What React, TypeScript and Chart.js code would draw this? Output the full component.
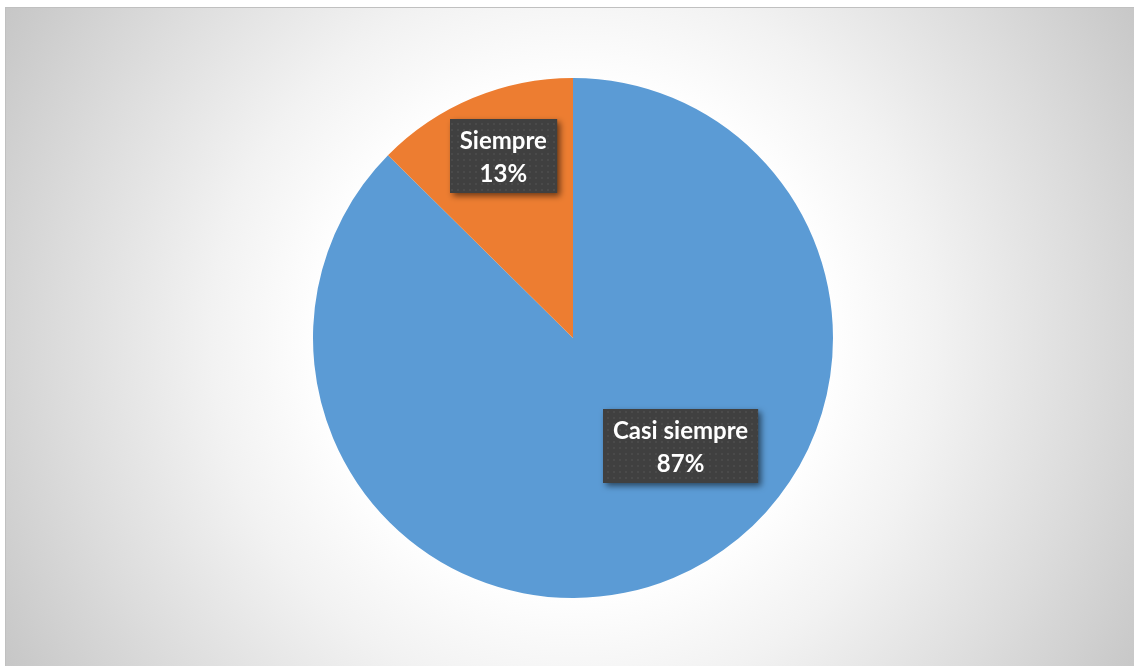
import React, { useEffect, useRef } from "react";
import { Chart, registerables } from "chart.js";

Chart.register(...registerables);

const categories = ["Casi siempre", "Siempre"];
const values = [87.4, 12.6];
const colors = ["#5B9BD5", "#ED7D31"];
// label placement: angle from 12 o'clock clockwise (deg), radius fraction
const labelAngles = [135, 339];
const labelRadii = [0.585, 0.748];

function makePattern(ctx: CanvasRenderingContext2D) {
  const c = document.createElement("canvas");
  c.width = 6;
  c.height = 6;
  const p = c.getContext("2d")!;
  p.fillStyle = "#404040";
  p.fillRect(0, 0, 6, 6);
  p.fillStyle = "#4a4a4a";
  p.fillRect(1, 1, 2, 2);
  return ctx.createPattern(c, "repeat");
}

const labelPlugin = {
  id: "boxLabels",
  afterDatasetsDraw(chart: any) {
    const ctx: CanvasRenderingContext2D = chart.ctx;
    const meta = chart.getDatasetMeta(0);
    const total = values.reduce((a, b) => a + b, 0);
    ctx.save();
    ctx.font = "bold 24px Lato";
    const pattern = makePattern(ctx);
    meta.data.forEach((arc: any, i: number) => {
      const { x, y, outerRadius } = arc.getProps(["x", "y", "outerRadius"], true);
      const a = (labelAngles[i] - 90) * (Math.PI / 180);
      const cx = x + Math.cos(a) * outerRadius * labelRadii[i];
      const cy = y + Math.sin(a) * outerRadius * labelRadii[i];
      const line1 = categories[i];
      const line2 = Math.round((values[i] / total) * 100) + "%";
      const w = Math.max(ctx.measureText(line1).width, ctx.measureText(line2).width) + 20;
      const h = 74;
      const bx = Math.round(cx - w / 2);
      const by = Math.round(cy - h / 2);
      ctx.save();
      ctx.shadowColor = "rgba(0,0,0,0.55)";
      ctx.shadowBlur = 6;
      ctx.shadowOffsetX = 3;
      ctx.shadowOffsetY = 3;
      ctx.fillStyle = pattern || "#404040";
      ctx.fillRect(bx, by, w, h);
      ctx.restore();
      ctx.fillStyle = "#ffffff";
      ctx.textAlign = "center";
      ctx.textBaseline = "alphabetic";
      ctx.fillText(line1, cx, cy - 7);
      ctx.fillText(line2, cx, cy + 26);
    });
    ctx.restore();
  },
};

export default function App() {
  const ref = useRef<HTMLCanvasElement>(null);
  useEffect(() => {
    const chart = new Chart(ref.current!, {
      type: "pie",
      data: {
        labels: categories,
        datasets: [
          {
            data: values,
            backgroundColor: colors,
            borderWidth: 0,
            hoverOffset: 0,
          },
        ],
      },
      options: {
        responsive: false,
        animation: false,
        layout: { padding: { left: 307, right: 300, top: 70, bottom: 67 } },
        plugins: { legend: { display: false }, tooltip: { enabled: false } },
      },
      plugins: [labelPlugin],
    });
    return () => chart.destroy();
  }, []);
  return (
    <div
      style={{
        position: "fixed",
        left: 0,
        top: 0,
        width: 1134,
        height: 666,
        background: "#ffffff",
        overflow: "hidden",
      }}
    >
      <div
        style={{
          position: "absolute",
          left: 5,
          top: 7,
          width: 1140,
          height: 670,
          boxSizing: "border-box",
          border: "1px solid #c0c0c0",
          background:
            "radial-gradient(circle 660px at 568px 331px, #ffffff 0%, #ffffff 38%, #f2f2f2 55%, #dcdcdc 78%, #c6c6c6 100%)",
        }}
      >
        <canvas ref={ref} width={1127} height={657} style={{ display: "block" }} />
      </div>
    </div>
  );
}
